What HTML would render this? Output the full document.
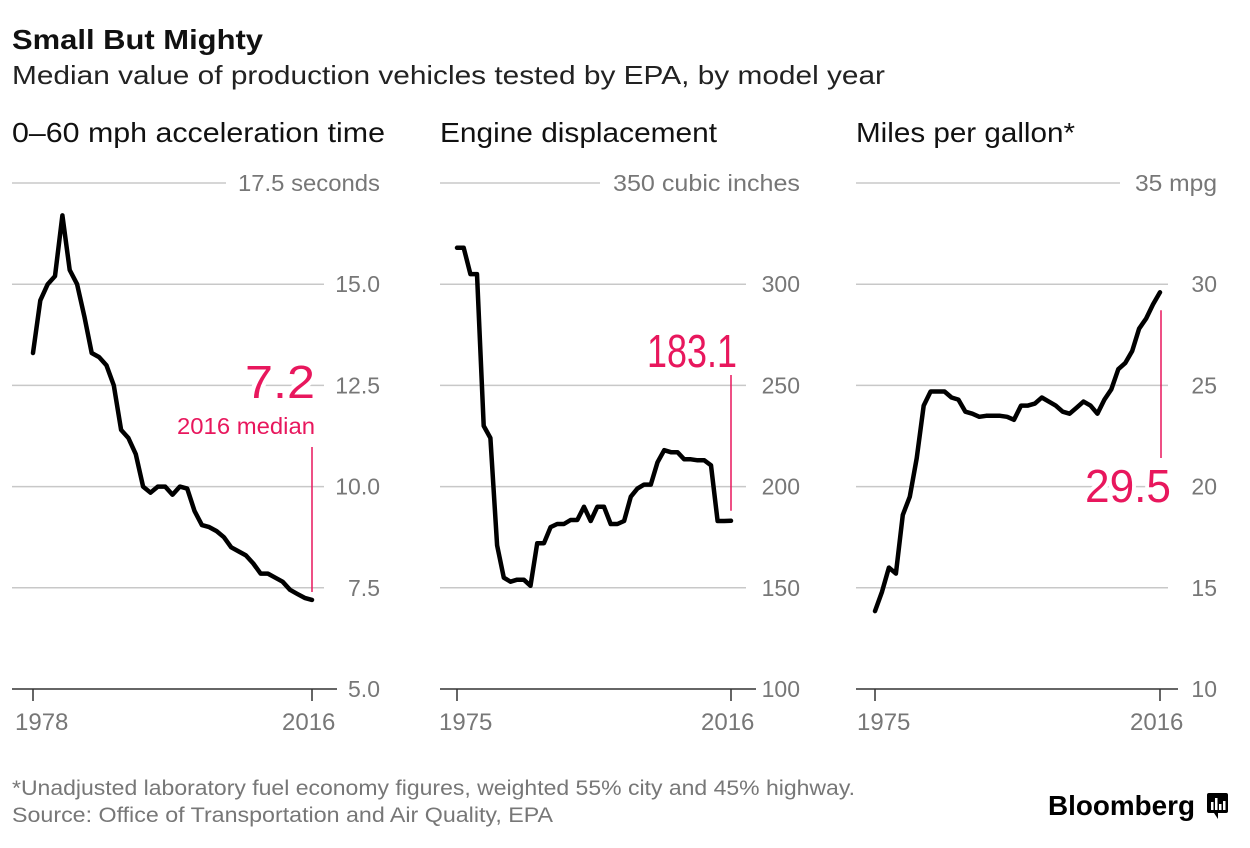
<!DOCTYPE html>
<html><head><meta charset="utf-8"><style>
body{margin:0;background:#fff;width:1250px;height:843px;overflow:hidden;font-family:"Liberation Sans",sans-serif}
svg text{font-family:"Liberation Sans",sans-serif}
</style></head><body>
<svg id="c" width="1250" height="843">
<text x="12" y="49" font-size="28" font-weight="bold" fill="#111" textLength="251" lengthAdjust="spacingAndGlyphs">Small But Mighty</text>
<text x="12" y="84" font-size="26" fill="#222" textLength="873" lengthAdjust="spacingAndGlyphs">Median value of production vehicles tested by EPA, by model year</text>
<text x="12" y="795" font-size="21" fill="#777" textLength="843" lengthAdjust="spacingAndGlyphs">*Unadjusted laboratory fuel economy figures, weighted 55% city and 45% highway.</text>
<text x="12" y="822" font-size="21" fill="#777" textLength="541" lengthAdjust="spacingAndGlyphs">Source: Office of Transportation and Air Quality, EPA</text>
<text x="1048" y="815" font-size="28" font-weight="bold" fill="#000" textLength="147" lengthAdjust="spacingAndGlyphs">Bloomberg</text>
<g><rect x="1207" y="793" width="21" height="20" rx="2" fill="#000"/><path d="M1214 813 L1218 819 L1218 813Z" fill="#000"/><rect x="1211" y="802" width="2.5" height="8" fill="#fff"/><rect x="1215" y="798" width="2.5" height="12" fill="#fff"/><rect x="1219" y="804" width="2.5" height="6" fill="#fff"/><rect x="1223" y="801" width="2.5" height="9" fill="#fff"/></g>
</svg>
<script>
const accelYears=[1978,2016];
const accelValues=[13.3,14.6,15.0,15.2,16.7,15.35,15.0,14.2,13.3,13.2,13.0,12.5,11.4,11.2,10.8,10.0,9.85,10.0,10.0,9.8,10.0,9.95,9.4,9.05,9.0,8.9,8.75,8.5,8.4,8.3,8.1,7.85,7.85,7.75,7.65,7.45,7.35,7.25,7.2];
const accelTicks=[5.0,7.5,10.0,12.5,15.0,17.5];
const dispYears=[1975,2016];
const dispValues=[318,318,305,305,230,224,171,155,153,154,154,151,172,172,180,181.5,181.5,183.5,183.5,190,183,190,190,181.5,181.5,183,195,199,201,201,212,218,217,217,213.5,213.5,213,213,210.5,183,183,183.1];
const dispTicks=[100,150,200,250,300,350];
const mpgYears=[1975,2016];
const mpgValues=[13.85,14.8,16.0,15.7,18.6,19.5,21.4,24.0,24.7,24.7,24.7,24.4,24.3,23.7,23.6,23.45,23.5,23.5,23.5,23.45,23.3,24.0,24.0,24.1,24.4,24.2,24.0,23.7,23.6,23.9,24.2,24.0,23.6,24.3,24.8,25.8,26.1,26.7,27.8,28.3,29.0,29.6];
const mpgTicks=[10,15,20,25,30,35];

const svg=document.getElementById('c');
const NS='http://www.w3.org/2000/svg';
function mk(tag,attrs,parent){const e=document.createElementNS(NS,tag);for(const k in attrs)e.setAttribute(k,attrs[k]);(parent||svg).appendChild(e);return e;}

function panel(cfg){
  const g=mk('g',{});
  
  
  const y0=689,y1=183;
  const ys=v=>y0-(v-cfg.ticks[0])/(cfg.ticks[cfg.ticks.length-1]-cfg.ticks[0])*(y0-y1);
  const xs=yr=>cfg.xa+(yr-cfg.years[0])/(cfg.years[1]-cfg.years[0])*(cfg.xb-cfg.xa);
  const t=mk('text',{x:cfg.left,y:142,'font-size':28,fill:'#111',textLength:cfg.titleLen,lengthAdjust:'spacingAndGlyphs'},g);t.textContent=cfg.title;
  
  
  cfg.ticks.forEach((v,i)=>{
    const y=ys(v);const last=i===cfg.ticks.length-1;
    if(i>0){
      const l=mk('line',{x1:cfg.left,x2:last?cfg.topLineEnd:cfg.gridEnd,y1:y,y2:y,stroke:'#c8c8c8','stroke-width':1.5},g);
      
      
    }
    const lb=mk('text',{x:cfg.labelRight,y:y+8,'font-size':23,fill:'#777','text-anchor':'end'},g);
    lb.textContent=last?cfg.topLabel:(cfg.dec?v.toFixed(1):String(v));
    if(last){lb.setAttribute('textLength',cfg.topLen);lb.setAttribute('lengthAdjust','spacingAndGlyphs');}
    
    
  });
  const ax=mk('line',{x1:cfg.left,x2:cfg.axisEnd,y1:y0,y2:y0,stroke:'#333','stroke-width':1.5},g);
  
  
  cfg.years.forEach((yr,i)=>{
    const x=xs(yr);
    mk('line',{x1:x,x2:x,y1:y0,y2:y0+12,stroke:'#333','stroke-width':1.5},g);
    const lb=mk('text',{x:i===0?x-18:x-30,y:730,'font-size':24,fill:'#777'},g);lb.textContent=yr;
    
    
  });
  const pts=cfg.values.map((v,i)=>xs(cfg.years[0]+i).toFixed(1)+','+ys(v).toFixed(1)).join(' ');
  const pl=mk('polyline',{points:pts,fill:'none',stroke:'#000','stroke-width':4.5,'stroke-linejoin':'round','stroke-linecap':'round'},g);
  
  
  cfg.annot(g,xs,ys);
}
function pink(g,x,y,txt,size,name,len){
  const r=mk('text',{x:x-len,y:y,'font-size':size,fill:'#e8175d',textLength:len,lengthAdjust:'spacingAndGlyphs',stroke:'#fff','stroke-width':8,'paint-order':'stroke'},g);
  r.textContent=txt;
  
  
}
function pline(g,x,a,b){const l=mk('line',{x1:x,x2:x,y1:a,y2:b,stroke:'#e8175d','stroke-width':1.5},g);
  
  }

panel({name:'acceleration',title:'0–60 mph acceleration time',titleLen:373,left:12,xa:33,xb:312,years:accelYears,values:accelValues,ticks:accelTicks,dec:true,gridEnd:324,topLineEnd:226,axisEnd:337,labelRight:380,topLabel:'17.5 seconds',topLen:142,
  annot:(g,xs,ys)=>{pink(g,315,398,'7.2',46,'value-label-2016',70);
    const s=mk('text',{x:177,y:434,'font-size':23,fill:'#e8175d',textLength:138,lengthAdjust:'spacingAndGlyphs'},g);s.textContent='2016 median';
    
    
    pline(g,312,447,ys(accelValues[accelValues.length-1])-8);}});
panel({name:'displacement',title:'Engine displacement',titleLen:277,left:440,xa:457,xb:731,years:dispYears,values:dispValues,ticks:dispTicks,dec:false,gridEnd:746,topLineEnd:600,axisEnd:756,labelRight:800,topLabel:'350 cubic inches',topLen:187,
  annot:(g,xs,ys)=>{pink(g,737,367,'183.1',46,'value-label-2016',90);pline(g,731,375,ys(dispValues[dispValues.length-1])-10);}});
panel({name:'mpg',title:'Miles per gallon*',titleLen:219,left:856,xa:875,xb:1160,years:mpgYears,values:mpgValues,ticks:mpgTicks,dec:false,gridEnd:1168,topLineEnd:1120,axisEnd:1178,labelRight:1217,topLabel:'35 mpg',topLen:82,
  annot:(g,xs,ys)=>{pline(g,1161,ys(mpgValues[mpgValues.length-1])+18,458);pink(g,1171,502,'29.5',46,'value-label-2016',86);}});
</script>
</body></html>
